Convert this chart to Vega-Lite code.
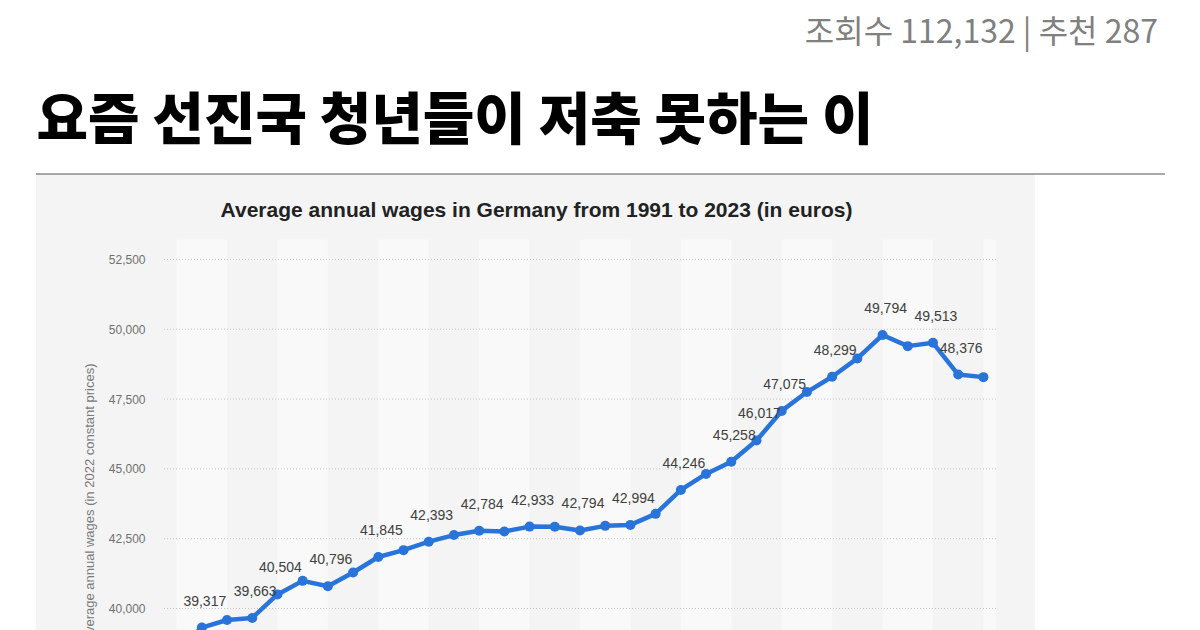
{
  "$schema": "https://vega.github.io/schema/vega-lite/v6.json",
  "width": 832,
  "height": 456,
  "autosize": {"type": "none"},
  "padding": {"left": 164, "top": 174, "right": 204, "bottom": 0},
  "background": "white",
  "config": {"view": {"stroke": null}},
  "title": {
    "text": "조회수 112,132 | 추천 287",
    "anchor": "end",
    "frame": "group",
    "font": "Noto Sans CJK KR",
    "fontSize": 32,
    "fontWeight": "normal",
    "color": "#808080",
    "baseline": "alphabetic",
    "offset": 18,
    "dx": 162
  },
  "datasets": {
    "wages": [
      {"year": 1991, "wage": 38500},
      {"year": 1992, "wage": 39317},
      {"year": 1993, "wage": 39590},
      {"year": 1994, "wage": 39663},
      {"year": 1995, "wage": 40504},
      {"year": 1996, "wage": 40990},
      {"year": 1997, "wage": 40796},
      {"year": 1998, "wage": 41290},
      {"year": 1999, "wage": 41845},
      {"year": 2000, "wage": 42090},
      {"year": 2001, "wage": 42393},
      {"year": 2002, "wage": 42630},
      {"year": 2003, "wage": 42784},
      {"year": 2004, "wage": 42760},
      {"year": 2005, "wage": 42933},
      {"year": 2006, "wage": 42925},
      {"year": 2007, "wage": 42794},
      {"year": 2008, "wage": 42960},
      {"year": 2009, "wage": 42994},
      {"year": 2010, "wage": 43390},
      {"year": 2011, "wage": 44246},
      {"year": 2012, "wage": 44820},
      {"year": 2013, "wage": 45258},
      {"year": 2014, "wage": 46017},
      {"year": 2015, "wage": 47075},
      {"year": 2016, "wage": 47750},
      {"year": 2017, "wage": 48299},
      {"year": 2018, "wage": 48955},
      {"year": 2019, "wage": 49794},
      {"year": 2020, "wage": 49395},
      {"year": 2021, "wage": 49513},
      {"year": 2022, "wage": 48376},
      {"year": 2023, "wage": 48285}
    ],
    "stripes": [
      {"start": 1991, "end": 1993},
      {"start": 1995, "end": 1997},
      {"start": 1999, "end": 2001},
      {"start": 2003, "end": 2005},
      {"start": 2007, "end": 2009},
      {"start": 2011, "end": 2013},
      {"start": 2015, "end": 2017},
      {"start": 2019, "end": 2021},
      {"start": 2023, "end": 2023.5}
    ],
    "grid": [
      {"value": 40000},
      {"value": 42500},
      {"value": 45000},
      {"value": 47500},
      {"value": 50000},
      {"value": 52500}
    ]
  },
  "resolve": {"axis": {"x": "independent", "y": "independent"}},
  "layer": [
    {
      "data": {"values": [{}]},
      "mark": {"type": "rect", "color": "#f4f4f4"},
      "encoding": {
        "x": {
          "datum": 1985.42,
          "type": "quantitative",
          "scale": {"domain": [1990.5, 2023.5], "nice": false, "zero": false},
          "axis": {
            "orient": "top",
            "domain": false,
            "ticks": false,
            "labels": false,
            "grid": false,
            "title": "요즘 선진국 청년들이 저축 못하는 이",
            "titleFont": "Noto Sans CJK KR",
            "titleFontSize": 56,
            "titleFontWeight": 900,
            "titleColor": "#000000",
            "titleAlign": "left",
            "titleAnchor": "start",
            "titleBaseline": "alphabetic",
            "titleX": -128,
            "titleY": -36,
            "zindex": 1
          }
        },
        "x2": {"datum": 2025.05}
      }
    },
    {
      "data": {"values": [{}]},
      "mark": {"type": "rule", "color": "#555555", "strokeWidth": 1},
      "encoding": {
        "x": {"datum": 1985.42, "type": "quantitative", "scale": {"domain": [1990.5, 2023.5], "nice": false, "zero": false}, "axis": null},
        "x2": {"datum": 2030.2},
        "y": {"datum": 55558, "type": "quantitative", "scale": {"domain": [39231, 55558], "nice": false, "zero": false}, "axis": null}
      }
    },
    {
      "data": {"name": "stripes"},
      "mark": {"type": "rect", "color": "#f9f9f9"},
      "encoding": {
        "x": {"field": "start", "type": "quantitative", "scale": {"domain": [1990.5, 2023.5], "nice": false, "zero": false}, "axis": null},
        "x2": {"field": "end"},
        "y": {"datum": 53200, "type": "quantitative", "scale": {"domain": [39231, 55558], "nice": false, "zero": false}, "axis": null},
        "y2": {"datum": 38000}
      }
    },
    {
      "data": {"name": "grid"},
      "mark": {"type": "rule", "color": "#c4c4c4", "strokeWidth": 1, "strokeDash": [1, 2]},
      "encoding": {
        "x": {
          "datum": 1990.5,
          "type": "quantitative",
          "scale": {"domain": [1990.5, 2023.5], "nice": false, "zero": false},
          "axis": {
            "orient": "bottom",
            "domain": false,
            "ticks": false,
            "labels": false,
            "grid": false,
            "title": "Average annual wages in Germany from 1991 to 2023 (in euros)",
            "titleFont": "Liberation Sans",
            "titleFontSize": 21,
            "titleFontWeight": "bold",
            "titleColor": "#222222",
            "titleX": 372,
            "titleY": -414,
            "titleAlign": "center",
            "titleBaseline": "alphabetic",
            "zindex": 1
          }
        },
        "x2": {"datum": 2023.5},
        "y": {
          "field": "value",
          "type": "quantitative",
          "scale": {"domain": [39231, 55558], "nice": false, "zero": false},
          "axis": {
            "orient": "left",
            "values": [40000, 42500, 45000, 47500, 50000, 52500],
            "format": ",.0f",
            "domain": false,
            "ticks": false,
            "grid": false,
            "labelPadding": 19,
            "labelFont": "Liberation Sans",
            "labelFontSize": 12,
            "labelColor": "#707070",
            "title": "Average annual wages (in 2022 constant prices)",
            "titleFont": "Liberation Sans",
            "titleFontSize": 13,
            "titleFontWeight": "normal",
            "titleColor": "#7a7a7a",
            "titleAngle": -90,
            "titleX": -71,
            "titleY": 328,
            "titleAlign": "center",
            "titleBaseline": "alphabetic",
            "zindex": 1
          }
        }
      }
    },
    {
      "data": {"name": "wages"},
      "mark": {"type": "line", "color": "#2874db", "strokeWidth": 4.5, "strokeJoin": "round", "strokeCap": "round"},
      "encoding": {
        "x": {"field": "year", "type": "quantitative", "scale": {"domain": [1990.5, 2023.5], "nice": false, "zero": false}, "axis": null},
        "y": {"field": "wage", "type": "quantitative", "scale": {"domain": [39231, 55558], "nice": false, "zero": false}, "axis": null}
      }
    },
    {
      "data": {"name": "wages"},
      "mark": {"type": "point", "filled": true, "color": "#2874db", "size": 100, "opacity": 1},
      "encoding": {
        "x": {"field": "year", "type": "quantitative", "scale": {"domain": [1990.5, 2023.5], "nice": false, "zero": false}, "axis": null},
        "y": {"field": "wage", "type": "quantitative", "scale": {"domain": [39231, 55558], "nice": false, "zero": false}, "axis": null}
      }
    },
    {
      "data": {"name": "wages"},
      "transform": [
        {"filter": {"field": "year", "oneOf": [1992, 1994, 1995, 1997, 1999, 2001, 2003, 2005, 2007, 2009, 2011, 2013, 2014, 2015, 2017, 2019, 2021, 2022]}}
      ],
      "mark": {"type": "text", "font": "Liberation Sans", "fontSize": 14, "color": "#404040", "baseline": "alphabetic", "align": "center", "dy": -22, "dx": 3},
      "encoding": {
        "x": {"field": "year", "type": "quantitative", "scale": {"domain": [1990.5, 2023.5], "nice": false, "zero": false}, "axis": null},
        "y": {"field": "wage", "type": "quantitative", "scale": {"domain": [39231, 55558], "nice": false, "zero": false}, "axis": null},
        "text": {"field": "wage", "type": "quantitative", "format": ","}
      }
    }
  ]
}
